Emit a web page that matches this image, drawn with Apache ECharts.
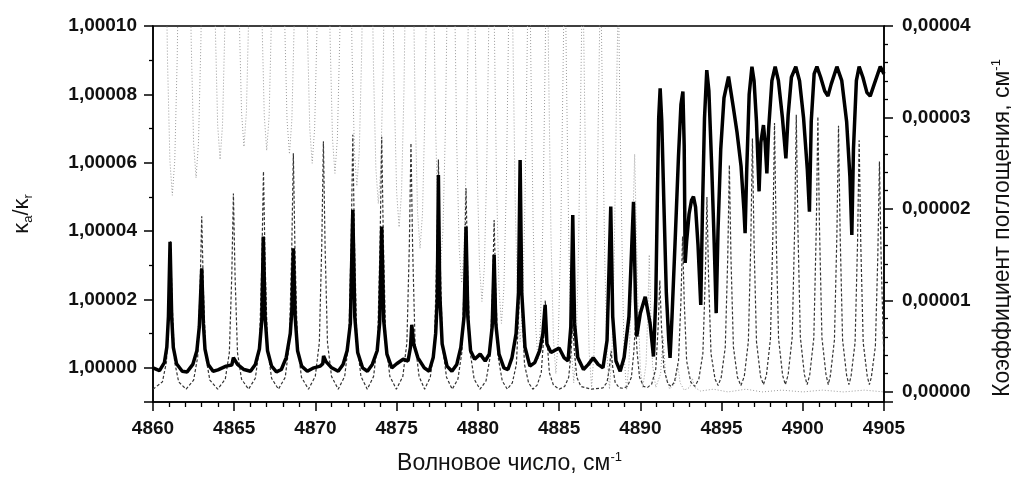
<!DOCTYPE html>
<html>
<head>
<meta charset="utf-8">
<script src="https://cdn.jsdelivr.net/npm/echarts@6/dist/echarts.min.js"></script>
<style>
  html, body { margin: 0; padding: 0; background: #fff; }
  #chart { width: 1011px; height: 479px; }
</style>
</head>
<body>
<div id="chart"></div>
<script>
// axis steps: labelled ticks and the number of minor divisions between them
const leftStep = 0.00002;   // labels 1,00000 ... 1,00010
const leftMinorSplit = 2;
const rightStep = 0.00001;  // labels 0,00000 ... 0,00004
const rightMinorSplit = 5;

// κa/κr (left axis), [wavenumber, ratio]
const ratioPoints = [
  [4860.0, 1.0], [4860.4, 0.9999992], [4860.7, 1.0000015], [4860.85, 1.000006], [4860.95, 1.000015],
  [4861.05, 1.0000369], [4861.15, 1.000015], [4861.25, 1.000006], [4861.45, 1.0000012], [4861.8, 0.999999],
  [4862.1, 0.9999988], [4862.45, 1.000001], [4862.7, 1.000005], [4862.85, 1.000012], [4863.0, 1.0000291],
  [4863.1, 1.000013], [4863.2, 1.0000055], [4863.4, 1.000001], [4863.7, 0.999999], [4864.0, 0.9999994],
  [4864.5, 1.0000005], [4864.85, 1.0000008], [4864.95, 1.000003], [4865.2, 1.000001], [4865.6, 0.9999995],
  [4866.0, 0.999999], [4866.3, 1.000001], [4866.55, 1.0000055], [4866.7, 1.000014], [4866.79, 1.0000384],
  [4866.9, 1.000015], [4867.05, 1.000005], [4867.3, 1.0000005], [4867.6, 0.9999988], [4867.9, 0.9999995],
  [4868.2, 1.000003], [4868.45, 1.00001], [4868.55, 1.000017], [4868.64, 1.000035], [4868.75, 1.000015],
  [4868.9, 1.000005], [4869.15, 1.0000005], [4869.5, 0.999999], [4869.9, 1.0], [4870.3, 1.0000005],
  [4870.45, 1.0000012], [4870.5, 1.0000035], [4870.65, 1.0000018], [4871.0, 1.0], [4871.4, 0.999999],
  [4871.7, 1.000001], [4871.95, 1.000005], [4872.15, 1.000013], [4872.3, 1.0000462], [4872.42, 1.000015],
  [4872.6, 1.0000045], [4872.9, 1.0], [4873.2, 0.999999], [4873.5, 1.000001], [4873.8, 1.000005],
  [4873.95, 1.000013], [4874.08, 1.0000413], [4874.2, 1.000014], [4874.4, 1.000004], [4874.7, 1.0],
  [4875.0, 1.0000012], [4875.4, 1.0000025], [4875.7, 1.000002], [4875.85, 1.000006], [4875.93, 1.0000126],
  [4876.05, 1.000007], [4876.3, 1.000003], [4876.7, 1.0], [4877.0, 0.999999], [4877.25, 1.000003],
  [4877.4, 1.00001], [4877.5, 1.00002], [4877.57, 1.0000564], [4877.65, 1.000022], [4877.8, 1.000007],
  [4878.1, 1.0000005], [4878.4, 0.999999], [4878.7, 1.000001], [4878.95, 1.000006], [4879.15, 1.000015],
  [4879.27, 1.0000413], [4879.38, 1.000015], [4879.55, 1.000005], [4879.8, 1.0000025], [4880.14, 1.000004],
  [4880.45, 1.000002], [4880.7, 1.000004], [4880.88, 1.000012], [4881.0, 1.000033], [4881.1, 1.000013],
  [4881.3, 1.000004], [4881.6, 1.0], [4881.85, 0.9999995], [4882.1, 1.000003], [4882.35, 1.00001],
  [4882.5, 1.000022], [4882.6, 1.0000608], [4882.7, 1.000022], [4882.9, 1.000006], [4883.2, 1.0000005],
  [4883.5, 1.0000015], [4883.8, 1.000005], [4884.0, 1.00001], [4884.14, 1.0000184], [4884.25, 1.000007],
  [4884.5, 1.0000045], [4885.0, 1.0000058], [4885.3, 1.000003], [4885.55, 1.000002], [4885.72, 1.000012],
  [4885.84, 1.0000447], [4885.95, 1.000013], [4886.15, 1.000003], [4886.5, 0.9999995], [4886.8, 1.000001],
  [4887.1, 1.0000029], [4887.4, 1.000001], [4887.7, 1.0], [4887.95, 1.000008], [4888.18, 1.0000472],
  [4888.3, 1.000015], [4888.5, 1.000002], [4888.76, 0.999999], [4889.0, 1.000003], [4889.3, 1.000015],
  [4889.58, 1.0000486], [4889.7, 1.00002], [4889.78, 1.0000092], [4890.0, 1.000016], [4890.3, 1.0000208],
  [4890.6, 1.000013], [4890.81, 1.0000033], [4890.95, 1.00002], [4891.05, 1.00005], [4891.13, 1.000073],
  [4891.22, 1.0000818], [4891.32, 1.000072], [4891.45, 1.000048], [4891.6, 1.000022], [4891.75, 1.000008],
  [4891.83, 1.0000029], [4891.95, 1.000015], [4892.15, 1.000038], [4892.35, 1.000062], [4892.5, 1.000077],
  [4892.62, 1.0000808], [4892.7, 1.000065], [4892.76, 1.0000307], [4892.85, 1.000037], [4893.0, 1.000045],
  [4893.15, 1.000049], [4893.27, 1.0000501], [4893.4, 1.000047], [4893.55, 1.000036], [4893.72, 1.0000184],
  [4893.82, 1.000045], [4893.95, 1.000073], [4894.09, 1.0000871], [4894.22, 1.000081], [4894.4, 1.000058],
  [4894.55, 1.000036], [4894.67, 1.000016], [4894.78, 1.00004], [4894.95, 1.000064], [4895.15, 1.000079],
  [4895.43, 1.0000852], [4895.6, 1.00008], [4895.73, 1.000076], [4895.95, 1.000069], [4896.2, 1.000059],
  [4896.38, 1.000046], [4896.45, 1.0000394], [4896.55, 1.000058], [4896.7, 1.00008], [4896.87, 1.0000881],
  [4897.0, 1.000084], [4897.15, 1.000072], [4897.31, 1.0000516], [4897.42, 1.000066], [4897.58, 1.000071],
  [4897.68, 1.000066], [4897.79, 1.0000569], [4897.9, 1.00007], [4898.1, 1.000084], [4898.3, 1.0000881],
  [4898.5, 1.000084], [4898.75, 1.000073], [4898.96, 1.0000613], [4899.1, 1.000074], [4899.3, 1.000085],
  [4899.57, 1.0000881], [4899.8, 1.000084], [4900.05, 1.000073], [4900.28, 1.000058], [4900.41, 1.0000457],
  [4900.52, 1.000072], [4900.7, 1.000086], [4900.87, 1.0000881], [4901.1, 1.000085], [4901.35, 1.000081],
  [4901.55, 1.0000795], [4901.75, 1.000083], [4902.1, 1.0000881], [4902.4, 1.000084], [4902.7, 1.000072],
  [4902.9, 1.000056], [4903.02, 1.0000389], [4903.12, 1.000064], [4903.3, 1.000084], [4903.47, 1.0000881],
  [4903.7, 1.000085], [4903.95, 1.0000805], [4904.15, 1.0000795], [4904.4, 1.000083], [4904.77, 1.0000881],
  [4905.0, 1.000086]
];

// absorption coefficient, dashed curve (right axis, cm-1)
const dashPoints = [
  [4860.0, 0.03e-5], [4860.58, 0.11e-5], [4860.83, 0.33e-5], [4860.98, 0.97e-5], [4861.08, 1.65e-5], [4861.18, 0.97e-5], [4861.33, 0.33e-5], [4861.58, 0.11e-5], [4862.04, 0.03e-5],
  [4862.5, 0.13e-5], [4862.75, 0.38e-5], [4862.9, 1.13e-5], [4863.0, 1.92e-5], [4863.1, 1.13e-5], [4863.25, 0.38e-5], [4863.5, 0.13e-5], [4863.98, 0.03e-5],
  [4864.45, 0.14e-5], [4864.7, 0.43e-5], [4864.85, 1.28e-5], [4864.95, 2.17e-5], [4865.05, 1.28e-5], [4865.2, 0.43e-5], [4865.45, 0.14e-5], [4865.88, 0.03e-5],
  [4866.3, 0.15e-5], [4866.55, 0.48e-5], [4866.7, 1.42e-5], [4866.8, 2.41e-5], [4866.9, 1.42e-5], [4867.05, 0.48e-5], [4867.3, 0.15e-5], [4867.72, 0.03e-5],
  [4868.14, 0.16e-5], [4868.39, 0.52e-5], [4868.54, 1.54e-5], [4868.64, 2.61e-5], [4868.74, 1.54e-5], [4868.89, 0.52e-5], [4869.14, 0.16e-5], [4869.57, 0.03e-5],
  [4869.99, 0.17e-5], [4870.24, 0.54e-5], [4870.39, 1.62e-5], [4870.49, 2.74e-5], [4870.59, 1.62e-5], [4870.74, 0.54e-5], [4870.99, 0.17e-5], [4871.4, 0.03e-5],
  [4871.8, 0.17e-5], [4872.05, 0.55e-5], [4872.2, 1.66e-5], [4872.3, 2.81e-5], [4872.4, 1.66e-5], [4872.55, 0.55e-5], [4872.8, 0.17e-5], [4873.19, 0.03e-5],
  [4873.58, 0.17e-5], [4873.83, 0.55e-5], [4873.98, 1.65e-5], [4874.08, 2.79e-5], [4874.18, 1.65e-5], [4874.33, 0.55e-5], [4874.58, 0.17e-5], [4874.98, 0.03e-5],
  [4875.38, 0.17e-5], [4875.63, 0.54e-5], [4875.78, 1.6e-5], [4875.88, 2.72e-5], [4875.98, 1.6e-5], [4876.13, 0.54e-5], [4876.38, 0.17e-5], [4876.72, 0.03e-5],
  [4877.07, 0.16e-5], [4877.32, 0.5e-5], [4877.47, 1.5e-5], [4877.57, 2.54e-5], [4877.67, 1.5e-5], [4877.82, 0.5e-5], [4878.07, 0.16e-5], [4878.42, 0.03e-5],
  [4878.77, 0.14e-5], [4879.02, 0.44e-5], [4879.17, 1.32e-5], [4879.27, 2.23e-5], [4879.37, 1.32e-5], [4879.52, 0.44e-5], [4879.77, 0.14e-5], [4880.13, 0.03e-5],
  [4880.5, 0.12e-5], [4880.75, 0.38e-5], [4880.9, 1.11e-5], [4881.0, 1.88e-5], [4881.1, 1.11e-5], [4881.25, 0.38e-5], [4881.5, 0.12e-5], [4881.81, 0.03e-5],
  [4882.12, 0.1e-5], [4882.37, 0.3e-5], [4882.52, 0.89e-5], [4882.62, 1.5e-5], [4882.72, 0.89e-5], [4882.87, 0.3e-5], [4883.12, 0.1e-5], [4883.38, 0.03e-5],
  [4883.65, 0.075e-5], [4883.9, 0.21e-5], [4884.05, 0.59e-5], [4884.15, 1.0e-5], [4884.25, 0.59e-5], [4884.4, 0.21e-5], [4884.65, 0.075e-5], [4885.0, 0.03e-5],
  [4885.34, 0.06e-5], [4885.59, 0.16e-5], [4885.74, 0.44e-5], [4885.84, 0.75e-5], [4885.94, 0.44e-5], [4886.09, 0.16e-5], [4886.34, 0.06e-5], [4887.0, 0.03e-5],
  [4887.7, 0.045e-5], [4887.95, 0.105e-5], [4888.1, 0.27e-5], [4888.2, 0.45e-5], [4888.3, 0.27e-5], [4888.45, 0.105e-5], [4888.7, 0.045e-5], [4888.95, 0.04e-5],
  [4889.2, 0.06e-5], [4889.45, 0.16e-5], [4889.6, 0.44e-5], [4889.7, 0.75e-5], [4889.8, 0.44e-5], [4889.95, 0.16e-5], [4890.2, 0.06e-5], [4890.45, 0.05e-5],
  [4890.7, 0.087e-5], [4890.95, 0.25e-5], [4891.1, 0.72e-5], [4891.2, 1.22e-5], [4891.3, 0.72e-5], [4891.45, 0.25e-5], [4891.7, 0.087e-5], [4891.9, 0.06e-5],
  [4892.1, 0.11e-5], [4892.35, 0.34e-5], [4892.5, 1.0e-5], [4892.6, 1.7e-5], [4892.7, 1.0e-5], [4892.85, 0.34e-5], [4893.1, 0.11e-5], [4893.35, 0.06e-5],
  [4893.6, 0.14e-5], [4893.85, 0.42e-5], [4894.0, 1.26e-5], [4894.1, 2.13e-5], [4894.2, 1.26e-5], [4894.35, 0.42e-5], [4894.6, 0.14e-5], [4894.79, 0.07e-5],
  [4894.98, 0.16e-5], [4895.23, 0.49e-5], [4895.38, 1.46e-5], [4895.48, 2.48e-5], [4895.58, 1.46e-5], [4895.73, 0.49e-5], [4895.98, 0.16e-5], [4896.19, 0.07e-5],
  [4896.4, 0.17e-5], [4896.65, 0.55e-5], [4896.8, 1.63e-5], [4896.9, 2.77e-5], [4897.0, 1.63e-5], [4897.15, 0.55e-5], [4897.4, 0.17e-5], [4897.58, 0.08e-5],
  [4897.76, 0.18e-5], [4898.01, 0.58e-5], [4898.16, 1.73e-5], [4898.26, 2.94e-5], [4898.36, 1.73e-5], [4898.51, 0.58e-5], [4898.76, 0.18e-5], [4898.93, 0.08e-5],
  [4899.1, 0.19e-5], [4899.35, 0.6e-5], [4899.5, 1.79e-5], [4899.6, 3.03e-5], [4899.7, 1.79e-5], [4899.85, 0.6e-5], [4900.1, 0.19e-5], [4900.27, 0.08e-5],
  [4900.43, 0.19e-5], [4900.68, 0.59e-5], [4900.83, 1.78e-5], [4900.93, 3.01e-5], [4901.03, 1.78e-5], [4901.18, 0.59e-5], [4901.43, 0.19e-5], [4901.57, 0.08e-5],
  [4901.7, 0.18e-5], [4901.95, 0.57e-5], [4902.1, 1.72e-5], [4902.2, 2.91e-5], [4902.3, 1.72e-5], [4902.45, 0.57e-5], [4902.7, 0.18e-5], [4902.84, 0.08e-5],
  [4902.97, 0.17e-5], [4903.22, 0.54e-5], [4903.37, 1.62e-5], [4903.47, 2.75e-5], [4903.57, 1.62e-5], [4903.72, 0.54e-5], [4903.97, 0.17e-5], [4904.1, 0.08e-5],
  [4904.22, 0.16e-5], [4904.47, 0.5e-5], [4904.62, 1.49e-5], [4904.72, 2.52e-5], [4904.82, 1.49e-5], [4904.97, 0.5e-5], [4905.0, 0.4e-5]
];

// absorption coefficient, dotted grey curve (right axis, cm-1); tops run off the frame
const dotPoints = [
  [4860.0, 4.5e-5], [4860.45, 7e-5],
  [4860.74, 5.55e-5], [4860.89, 3.65e-5], [4861.04, 2.53e-5], [4861.19, 2.15e-5], [4861.34, 2.53e-5], [4861.49, 3.65e-5], [4861.64, 5.55e-5], [4861.92, 7e-5],
  [4862.2, 5.74e-5], [4862.35, 3.84e-5], [4862.5, 2.72e-5], [4862.65, 2.34e-5], [4862.8, 2.72e-5], [4862.95, 3.84e-5], [4863.1, 5.74e-5], [4863.39, 7e-5],
  [4863.68, 5.94e-5], [4863.83, 4.04e-5], [4863.98, 2.92e-5], [4864.13, 2.54e-5], [4864.28, 2.92e-5], [4864.43, 4.04e-5], [4864.58, 5.94e-5], [4864.87, 7e-5],
  [4865.15, 6.08e-5], [4865.3, 4.18e-5], [4865.45, 3.06e-5], [4865.6, 2.68e-5], [4865.75, 3.06e-5], [4865.9, 4.18e-5], [4866.05, 6.08e-5], [4866.3, 7e-5],
  [4866.55, 6.04e-5], [4866.7, 4.14e-5], [4866.85, 3.02e-5], [4867.0, 2.64e-5], [4867.15, 3.02e-5], [4867.3, 4.14e-5], [4867.45, 6.04e-5], [4867.7, 7e-5],
  [4867.95, 6.0e-5], [4868.1, 4.1e-5], [4868.25, 2.98e-5], [4868.4, 2.6e-5], [4868.55, 2.98e-5], [4868.7, 4.1e-5], [4868.85, 6.0e-5], [4869.1, 7e-5],
  [4869.35, 5.9e-5], [4869.5, 4.0e-5], [4869.65, 2.88e-5], [4869.8, 2.5e-5], [4869.95, 2.88e-5], [4870.1, 4.0e-5], [4870.25, 5.9e-5], [4870.5, 7e-5],
  [4870.75, 5.79e-5], [4870.9, 3.89e-5], [4871.05, 2.77e-5], [4871.2, 2.39e-5], [4871.35, 2.77e-5], [4871.5, 3.89e-5], [4871.65, 5.79e-5], [4871.88, 7e-5],
  [4872.1, 5.65e-5], [4872.25, 3.75e-5], [4872.4, 2.63e-5], [4872.55, 2.25e-5], [4872.7, 2.63e-5], [4872.85, 3.75e-5], [4873.0, 5.65e-5], [4873.21, 7e-5],
  [4873.42, 5.46e-5], [4873.57, 3.56e-5], [4873.72, 2.44e-5], [4873.87, 2.06e-5], [4874.02, 2.44e-5], [4874.17, 3.56e-5], [4874.32, 5.46e-5], [4874.51, 7e-5],
  [4874.7, 5.2e-5], [4874.85, 3.3e-5], [4875.0, 2.18e-5], [4875.15, 1.8e-5], [4875.3, 2.18e-5], [4875.45, 3.3e-5], [4875.6, 5.2e-5], [4875.8, 7e-5],
  [4875.99, 4.97e-5], [4876.14, 3.07e-5], [4876.29, 1.95e-5], [4876.44, 1.57e-5], [4876.59, 1.95e-5], [4876.74, 3.07e-5], [4876.89, 4.97e-5], [4877.07, 7e-5],
  [4877.25, 4.78e-5], [4877.4, 2.88e-5], [4877.55, 1.76e-5], [4877.7, 1.38e-5], [4877.85, 1.76e-5], [4878.0, 2.88e-5], [4878.15, 4.78e-5], [4878.35, 7e-5],
  [4878.55, 4.59e-5], [4878.7, 2.69e-5], [4878.85, 1.57e-5], [4879.0, 1.19e-5], [4879.15, 1.57e-5], [4879.3, 2.69e-5], [4879.45, 4.59e-5], [4879.62, 7e-5],
  [4879.8, 4.39e-5], [4879.95, 2.49e-5], [4880.1, 1.37e-5], [4880.25, 0.99e-5], [4880.4, 1.37e-5], [4880.55, 2.49e-5], [4880.7, 4.39e-5], [4880.85, 7e-5],
  [4881.0, 4.15e-5], [4881.15, 2.25e-5], [4881.3, 1.13e-5], [4881.45, 0.75e-5], [4881.6, 1.13e-5], [4881.75, 2.25e-5], [4881.9, 4.15e-5], [4882.03, 6.5e-5],
  [4882.15, 3.95e-5], [4882.3, 2.05e-5], [4882.45, 0.93e-5], [4882.6, 0.55e-5], [4882.75, 0.93e-5], [4882.9, 2.05e-5], [4883.05, 3.95e-5], [4883.15, 6e-5],
  [4883.25, 3.75e-5], [4883.4, 1.85e-5], [4883.55, 0.73e-5], [4883.7, 0.35e-5], [4883.85, 0.73e-5], [4884.0, 1.85e-5], [4884.15, 3.75e-5], [4884.25, 5.5e-5],
  [4884.35, 3.6e-5], [4884.5, 1.7e-5], [4884.65, 0.58e-5], [4884.8, 0.2e-5], [4884.95, 0.58e-5], [4885.1, 1.7e-5], [4885.25, 3.6e-5], [4885.35, 5e-5],
  [4885.45, 3.5e-5], [4885.6, 1.6e-5], [4885.75, 0.48e-5], [4885.9, 0.1e-5], [4886.05, 0.48e-5], [4886.2, 1.6e-5], [4886.35, 3.5e-5], [4886.45, 4.8e-5],
  [4886.55, 3.45e-5], [4886.7, 1.55e-5], [4886.85, 0.43e-5], [4887.0, 0.05e-5], [4887.15, 0.43e-5], [4887.3, 1.55e-5], [4887.45, 3.45e-5], [4887.55, 4.6e-5],
  [4887.65, 3.43e-5], [4887.8, 1.53e-5], [4887.95, 0.41e-5], [4888.1, 0.03e-5], [4888.25, 0.41e-5], [4888.4, 1.53e-5], [4888.55, 3.43e-5], [4888.65, 4.4e-5],
  [4888.75, 3.0e-5], [4888.9, 1.3e-5], [4889.0, 0.4e-5], [4889.15, 0.02e-5], [4889.3, 0.3e-5], [4889.45, 1.2e-5], [4889.65, 2.6e-5], [4889.85, 1.0e-5],
  [4890.0, 0.25e-5], [4890.15, 0.05e-5], [4890.35, 0.3e-5], [4890.45, 0.8e-5], [4890.55, 1.5e-5], [4890.65, 0.8e-5], [4890.75, 0.3e-5], [4890.95, 0.05e-5],
  [4891.25, 0.2e-5], [4891.4, 0.6e-5], [4891.55, 0.2e-5], [4891.8, 0.03e-5], [4892.15, 0.1e-5], [4892.3, 0.3e-5], [4892.45, 0.1e-5], [4892.7, 0.02e-5],
  [4893.05, 0.05e-5], [4893.2, 0.15e-5], [4893.35, 0.05e-5], [4893.7, 0.01e-5], [4894.5, 0.03e-5], [4895.4, 0.0], [4896.5, 0.03e-5], [4897.5, 0.0],
  [4898.7, 0.02e-5], [4900.0, 0.0], [4901.2, 0.02e-5], [4902.5, 0.0], [4903.8, 0.02e-5], [4905.0, 0.0]
];

const font = 'Liberation Sans, Arial, sans-serif';
const comma = v => v.toFixed(5).replace('.', ',');

const chart = echarts.init(document.getElementById('chart'));

const tickLine = { color: '#000', width: 1.5 };
const minorLine = { color: '#000', width: 1.3 };
const tickFont = { fontFamily: font, fontSize: 19, fontWeight: 'bold', color: '#111' };

chart.setOption({
  animation: false,
  backgroundColor: '#fff',
  grid: {
    left: 153, right: 127, top: 26, bottom: 77,
    outerBoundsMode: 'none', containLabel: false,
    show: true, borderColor: '#000', borderWidth: 1.5, backgroundColor: 'transparent'
  },
  xAxis: {
    type: 'value',
    min: 4860, max: 4905, interval: 5,
    name: '{t|Волновое число, см}{s|-1}',
    nameLocation: 'middle',
    nameGap: 49,
    nameTextStyle: {
      padding: [0, 18, 0, 0],
      rich: {
        t: { fontFamily: font, fontSize: 23, color: '#111', lineHeight: 26 },
        s: { fontFamily: font, fontSize: 13, color: '#111', verticalAlign: 'top', lineHeight: 26 }
      }
    },
    axisLine: { show: true, onZero: false, lineStyle: tickLine },
    axisTick: { show: true, length: 9, lineStyle: tickLine },
    minorTick: { show: true, splitNumber: 5, length: 5, lineStyle: minorLine },
    axisLabel: Object.assign({ margin: 17, formatter: v => String(v) }, tickFont),
    splitLine: { show: false }
  },
  yAxis: [
    {
      type: 'value', position: 'left',
      min: 0.99999, max: 1.0001,
      // step fixed through min/maxInterval so ticks sit on multiples of it, not on min
      minInterval: leftStep, maxInterval: leftStep,
      name: '{k|κ}{s|a}{k|/κ}{s|r}',
      nameLocation: 'middle', nameRotate: 90, nameGap: 118,
      nameTextStyle: {
        rich: {
          k: { fontFamily: font, fontSize: 22, color: '#111', lineHeight: 26 },
          s: { fontFamily: font, fontSize: 13, color: '#111', verticalAlign: 'bottom', lineHeight: 26 }
        }
      },
      axisLine: { show: true, onZero: false, lineStyle: tickLine },
      axisTick: { show: true, length: 9, lineStyle: tickLine },
      minorTick: { show: true, splitNumber: leftMinorSplit, length: 4, lineStyle: minorLine },
      axisLabel: Object.assign({ formatter: comma, margin: 16, showMinLabel: false }, tickFont),
      splitLine: { show: false }
    },
    {
      type: 'value', position: 'right',
      min: -0.0000011, max: 0.00004,
      minInterval: rightStep, maxInterval: rightStep,
      name: '{t|Коэффициент поглощения, см}{s|-1}',
      nameLocation: 'middle', nameRotate: 90, nameGap: 106,
      nameTextStyle: {
        padding: [0, 28, 0, 0],
        rich: {
          t: { fontFamily: font, fontSize: 23, color: '#111', lineHeight: 26 },
          s: { fontFamily: font, fontSize: 13, color: '#111', verticalAlign: 'top', lineHeight: 26 }
        }
      },
      axisLine: { show: true, onZero: false, lineStyle: tickLine },
      axisTick: { show: true, length: 9, lineStyle: tickLine },
      minorTick: { show: true, splitNumber: rightMinorSplit, length: 4, lineStyle: minorLine },
      axisLabel: Object.assign({ formatter: comma, margin: 18, showMinLabel: false }, tickFont),
      splitLine: { show: false }
    }
  ],
  series: [
    {
      type: 'line', yAxisIndex: 1, data: dotPoints, showSymbol: false, clip: true, z: 1,
      lineStyle: { color: '#9a9a9a', width: 1, type: [1, 2] }
    },
    {
      type: 'line', yAxisIndex: 1, data: dashPoints, showSymbol: false, clip: true, z: 2,
      lineStyle: { color: '#333', width: 1.2, type: [3, 2] }
    },
    {
      type: 'line', yAxisIndex: 0, data: ratioPoints, showSymbol: false, clip: true, z: 3,
      lineStyle: { color: '#000', width: 3.5 }
    }
  ]
});
</script>
</body>
</html>
